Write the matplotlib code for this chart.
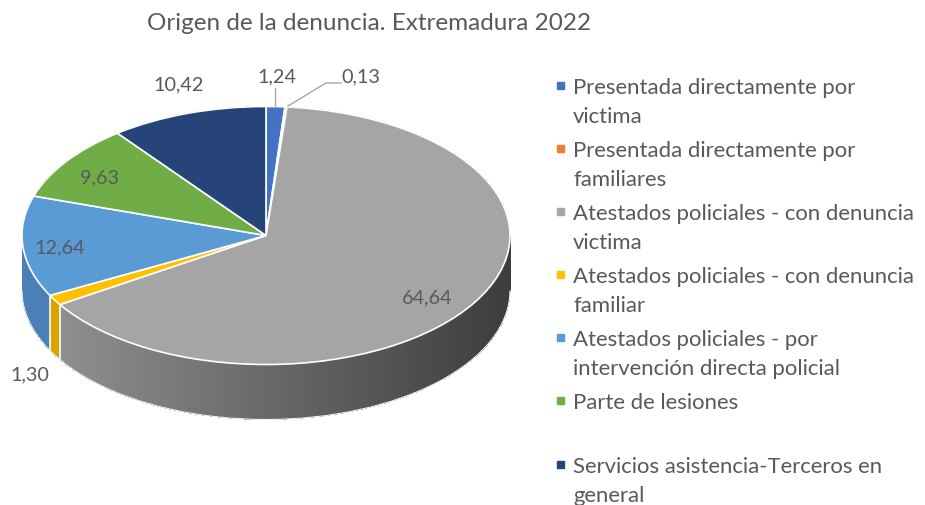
import matplotlib
matplotlib.use("Agg")
import matplotlib.pyplot as plt
import numpy as np
from matplotlib.patches import Ellipse, Arc
from matplotlib.colors import to_rgb

# Datos
categorias = [
    "Presentada directamente por\nvictima",
    "Presentada directamente por\nfamiliares",
    "Atestados policiales - con denuncia\nvictima",
    "Atestados policiales - con denuncia\nfamiliar",
    "Atestados policiales - por\nintervención directa policial",
    "Parte de lesiones",
    "Servicios asistencia-Terceros en\ngeneral",
]
valores = [1.24, 0.13, 64.64, 1.30, 12.64, 9.63, 10.42]
etiquetas = ["1,24", "0,13", "64,64", "1,30", "12,64", "9,63", "10,42"]
colores = ["#4472C4", "#ED7D31", "#A5A5A5", "#FFC000", "#5B9BD5", "#70AD47", "#264478"]
colores_lado = ["#35599a", "#b85f22", "#6e6e6e", "#d9a300", "#4a80b6", "#578a37", "#1c3459"]

TITULO = "Origen de la denuncia. Extremadura 2022"
GRIS_TXT = "#595959"

plt.rcParams["font.family"] = ["Lato", "DejaVu Sans"]

# Geometria en pixeles de la figura
W, H = 925, 506
CX, CY, RX, RY = 266, 236.5, 244, 129
PROF = 55 / RY


def px(x, y):
    return ((x - CX) / RX, (CY - y) / RY)


fig = plt.figure(figsize=(W / 100, H / 100), dpi=100)
ax = fig.add_axes([0, 0, 1, 1])

# Lateral del "pastel 3D": capas apiladas
N = 70
for k in range(N + 1):
    y_off = -PROF * (N - k) / N
    ax.pie(valores, colors=colores_lado, startangle=90, counterclock=False,
           center=(0, y_off), radius=1,
           wedgeprops=dict(linewidth=0, zorder=1, antialiased=False))

# degradado en el lateral gris
angulos = np.cumsum(valores) / sum(valores) * 2 * np.pi
x_gris = np.sin(angulos[2])
c0 = np.array(to_rgb("#8f8f8f"))
c1 = np.array(to_rgb("#3d3d3d"))
t = np.linspace(0, 1, 256)[None, :, None]
grad = c0 + (c1 - c0) * t
ax.imshow(grad, extent=[x_gris, 1, -PROF, 0], aspect="auto", zorder=2,
          interpolation="bilinear")
im2 = ax.imshow(grad, extent=[x_gris, 1, -1 - PROF, -PROF], aspect="auto",
                zorder=2, interpolation="bilinear")
im2.set_clip_path(Ellipse((0, -PROF), 2, 2, transform=ax.transData))

# bordes blancos del lateral
for a in angulos[2:4]:
    xb = np.sin(a)
    yb = np.cos(a)
    ax.plot([xb, xb], [yb, yb - PROF], color="white", lw=1.2, zorder=2.5)
ax.add_patch(Arc((0, -PROF), 2, 2, theta1=180, theta2=360, color="#f2f2f2",
                 lw=0.8, zorder=2.5))

# Cara superior
ax.pie(valores, colors=colores, startangle=90, counterclock=False,
       radius=1, wedgeprops=dict(linewidth=1.2, edgecolor="white", zorder=3))

ax.set_aspect("auto")
ax.set_xlim(-CX / RX, (W - CX) / RX)
ax.set_ylim((CY - H) / RY, CY / RY)
ax.axis("off")

# Etiquetas de datos
pos_etiquetas = [(277, 77), (361, 77), (427, 298), (30, 375), (60, 248), (100, 178), (179, 85)]
for txt, (x, y) in zip(etiquetas, pos_etiquetas):
    ax.text(*px(x, y), txt, fontsize=14.3, color=GRIS_TXT, ha="center", va="center", zorder=5)

# lineas guia
ax.plot(*zip(px(275, 89), px(275, 107)), color="#a6a6a6", lw=1, zorder=4)
ax.plot(*zip(px(341, 84), px(326, 84), px(288, 107)), color="#a6a6a6", lw=1, zorder=4)

# Titulo
fig.text(369 / W, 1 - 23 / H, TITULO, fontsize=17.5, color=GRIS_TXT, ha="center", va="center")

# Leyenda
base_y = [94, 157, 220, 283, 346, 409, 473]
for cat, col, by in zip(categorias, colores, base_y):
    lineas = cat.split("\n")
    for i, linea in enumerate(lineas):
        fig.text(573 / W, 1 - (by + i * 29) / H, linea, fontsize=15.9,
                 color=GRIS_TXT, ha="left", va="baseline")
    fig.add_artist(plt.Rectangle((557 / W, 1 - (by - 4) / H), 7 / W, 7 / H,
                                 color=col, transform=fig.transFigure))

fig.savefig("out.png", dpi=100)
